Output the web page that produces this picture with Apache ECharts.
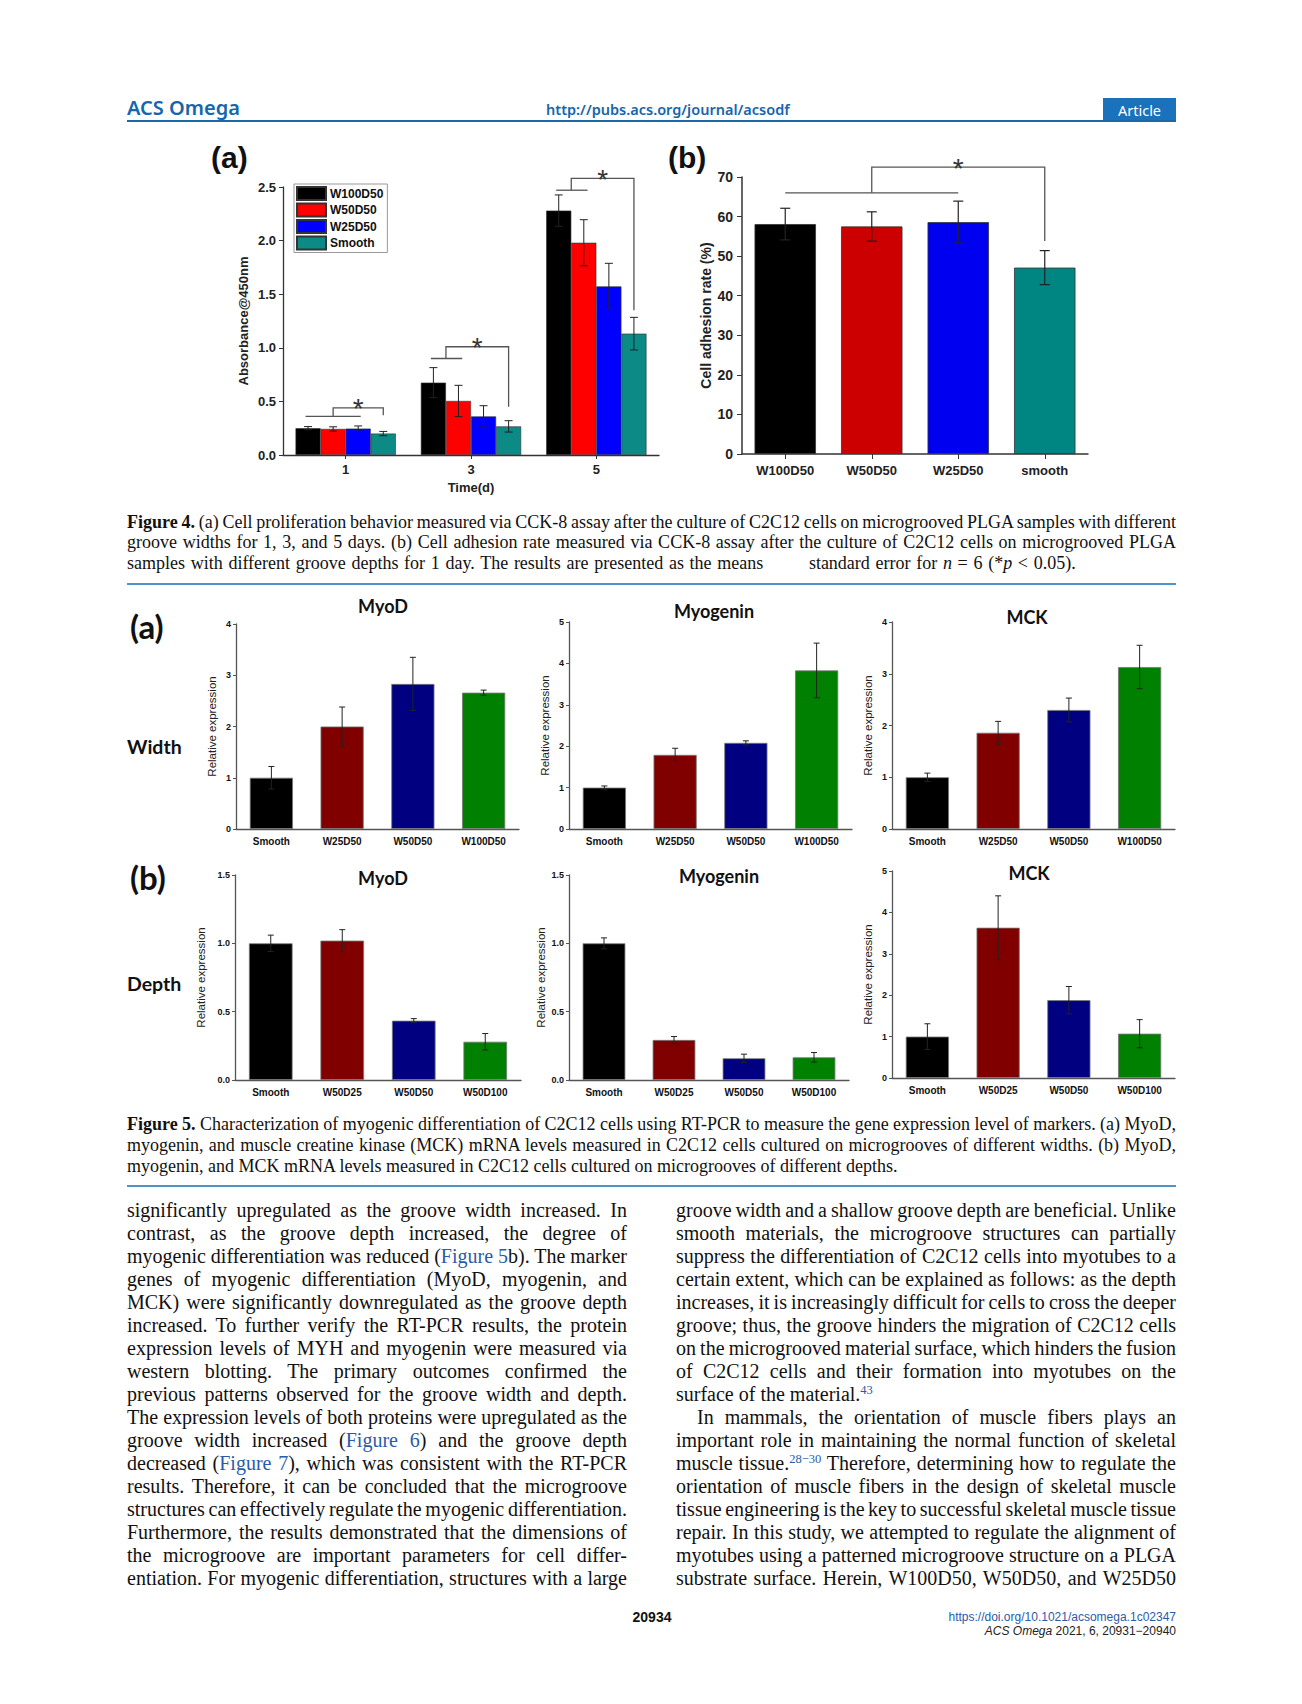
<!DOCTYPE html>
<html><head><meta charset="utf-8">
<script src="https://cdn.jsdelivr.net/npm/echarts@6/dist/echarts.min.js"></script>
<style>
html,body{margin:0;padding:0;background:#fff;}
body{width:1302px;height:1704px;position:relative;overflow:hidden;}
.t{position:absolute;white-space:nowrap;}
.serif{font-family:'Liberation Serif','Times New Roman',serif;color:#111;}
.cap{font-size:18px;line-height:20px;height:20px;left:127px;width:1049px;}
.body{font-size:20px;line-height:23px;height:23px;}
.lnk{color:#2b5aa8;}
.sup{font-size:12.5px;position:relative;top:-7px;color:#2b5aa8;}
.sans{font-family:'Liberation Sans',Arial,sans-serif;}
.lab5{font-family:Lato,'Open Sans',sans-serif;font-weight:bold;color:#111;}
#chart{position:absolute;left:0;top:0;width:1302px;height:1704px;z-index:5;}
</style></head>
<body>
<!-- header -->
<div class="t" style="left:127px;top:95px;font-family:'Noto Sans',sans-serif;font-size:20px;font-weight:600;line-height:26px;color:#1665ad;">ACS Omega</div>
<div class="t" style="left:546px;top:99px;font-family:'Noto Sans',sans-serif;font-size:14.5px;font-weight:600;line-height:20px;color:#1665ad;">http://pubs.acs.org/journal/acsodf</div>
<div class="t" style="left:1103px;top:98px;width:73px;height:24px;background:#1a72bd;color:#fff;font-family:'Noto Sans',sans-serif;font-size:14.5px;line-height:24px;text-align:center;">Article</div>
<div class="t" style="left:127px;top:120px;width:1049px;height:2px;background:#1a6aa8;"></div>

<!-- figure labels -->
<div class="t sans" style="left:211px;top:142px;font-size:30px;font-weight:bold;line-height:32px;color:#111;">(a)</div>
<div class="t sans" style="left:668px;top:142px;font-size:30px;font-weight:bold;line-height:32px;color:#111;">(b)</div>

<!-- Fig 4 caption -->
<div class="t serif cap j" style="top:512px;"><span><b>Figure 4.</b> (a) Cell proliferation behavior measured via CCK-8 assay after the culture of C2C12 cells on microgrooved PLGA samples with different</span></div>
<div class="t serif cap j" style="top:532px;"><span>groove widths for 1, 3, and 5 days. (b) Cell adhesion rate measured via CCK-8 assay after the culture of C2C12 cells on microgrooved PLGA</span></div>
<div class="t serif cap" style="top:553px;word-spacing:1.2px;"><span>samples with different groove depths for 1 day. The results are presented as the means &nbsp;&nbsp;&nbsp;&nbsp;&nbsp;&nbsp; standard error for <i>n</i> = 6 (*<i>p</i> &lt; 0.05).</span></div>
<div class="t" style="left:127px;top:583px;width:1049px;height:1.5px;background:#4f93c9;"></div>

<!-- Fig 5 labels -->
<div class="t lab5" style="left:130px;top:609px;font-size:33px;line-height:34px;">(a)</div>
<div class="t lab5" style="left:127px;top:735px;font-size:19.5px;line-height:24px;">Width</div>
<div class="t lab5" style="left:130px;top:860px;font-size:33px;line-height:34px;">(b)</div>
<div class="t lab5" style="left:127px;top:972px;font-size:19.5px;line-height:24px;">Depth</div>

<!-- Fig 5 caption -->
<div class="t serif cap j" style="top:1114px;"><span><b>Figure 5.</b> Characterization of myogenic differentiation of C2C12 cells using RT-PCR to measure the gene expression level of markers. (a) MyoD,</span></div>
<div class="t serif cap j" style="top:1135px;"><span>myogenin, and muscle creatine kinase (MCK) mRNA levels measured in C2C12 cells cultured on microgrooves of different widths. (b) MyoD,</span></div>
<div class="t serif cap" style="top:1156px;"><span>myogenin, and MCK mRNA levels measured in C2C12 cells cultured on microgrooves of different depths.</span></div>
<div class="t" style="left:127px;top:1185px;width:1049px;height:1.5px;background:#4f93c9;"></div>

<div id="bodytext"></div>

<!-- footer -->
<div class="t sans" style="left:612px;top:1608px;width:80px;text-align:center;font-size:14px;font-weight:bold;line-height:18px;color:#111;">20934</div>
<div class="t sans" style="right:126px;top:1610px;font-size:12px;line-height:14px;color:#2b5aa8;">https://doi.org/10.1021/acsomega.1c02347</div>
<div class="t sans" style="right:126px;top:1624px;font-size:12px;line-height:14px;color:#222;"><i>ACS Omega</i> 2021, 6, 20931−20940</div>

<div id="chart"></div>

<script>
// ---------------- body text ----------------
const leftLines = [
 "significantly upregulated as the groove width increased. In",
 "contrast, as the groove depth increased, the degree of",
 "myogenic differentiation was reduced (<span class='lnk'>Figure 5</span>b). The marker",
 "genes of myogenic differentiation (MyoD, myogenin, and",
 "MCK) were significantly downregulated as the groove depth",
 "increased. To further verify the RT-PCR results, the protein",
 "expression levels of MYH and myogenin were measured via",
 "western blotting. The primary outcomes confirmed the",
 "previous patterns observed for the groove width and depth.",
 "The expression levels of both proteins were upregulated as the",
 "groove width increased (<span class='lnk'>Figure 6</span>) and the groove depth",
 "decreased (<span class='lnk'>Figure 7</span>), which was consistent with the RT-PCR",
 "results. Therefore, it can be concluded that the microgroove",
 "structures can effectively regulate the myogenic differentiation.",
 "Furthermore, the results demonstrated that the dimensions of",
 "the microgroove are important parameters for cell differ-",
 "entiation. For myogenic differentiation, structures with a large"
];
const rightLines = [
 "groove width and a shallow groove depth are beneficial. Unlike",
 "smooth materials, the microgroove structures can partially",
 "suppress the differentiation of C2C12 cells into myotubes to a",
 "certain extent, which can be explained as follows: as the depth",
 "increases, it is increasingly difficult for cells to cross the deeper",
 "groove; thus, the groove hinders the migration of C2C12 cells",
 "on the microgrooved material surface, which hinders the fusion",
 "of C2C12 cells and their formation into myotubes on the",
 "surface of the material.<span class='sup'>43</span>",
 "In mammals, the orientation of muscle fibers plays an",
 "important role in maintaining the normal function of skeletal",
 "muscle tissue.<span class='sup'>28−30</span> Therefore, determining how to regulate the",
 "orientation of muscle fibers in the design of skeletal muscle",
 "tissue engineering is the key to successful skeletal muscle tissue",
 "repair. In this study, we attempted to regulate the alignment of",
 "myotubes using a patterned microgroove structure on a PLGA",
 "substrate surface. Herein, W100D50, W50D50, and W25D50"
];
(function(){
  const host = document.getElementById('bodytext');
  let html = '';
  leftLines.forEach((l,i)=>{
    html += `<div class="t serif body j" style="left:127px;width:500px;top:${1198.5+23*i}px;"><span>${l}</span></div>`;
  });
  rightLines.forEach((l,i)=>{
    const indent = (i===9);
    const just = (i!==8);
    html += `<div class="t serif body${just?' j':''}" style="left:${indent?697:676}px;width:${indent?479:500}px;top:${1198.5+23*i}px;"><span>${l}</span></div>`;
  });
  host.innerHTML = html;
  document.querySelectorAll('.j').forEach(el=>{
    const W = el.getBoundingClientRect().width;
    const s = el.firstElementChild;
    const w = s.getBoundingClientRect().width;
    const n = el.textContent.trim().split(/\s+/).length - 1;
    if (n>0) el.style.wordSpacing = ((W - w)/n) + 'px';
  });
})();

// ---------------- data ----------------
const fig4aDays = ['1', '3', '5'];
const fig4aNames = ['W100D50', 'W50D50', 'W25D50', 'Smooth'];
const fig4aW100D50 = [0.250, 0.675, 2.280];
const fig4aW50D50  = [0.243, 0.504, 1.980];
const fig4aW25D50  = [0.246, 0.360, 1.573];
const fig4aSmooth  = [0.200, 0.267, 1.132];
const fig4aErrW100D50 = [0.015, 0.140, 0.146];
const fig4aErrW50D50  = [0.020, 0.146, 0.215];
const fig4aErrW25D50  = [0.025, 0.100, 0.215];
const fig4aErrSmooth  = [0.020, 0.053, 0.152];
const fig4aSigLow  = [0.36, 0.90, 2.47];
const fig4aSigHigh = [0.44, 1.01, 2.58];
const fig4aSigDrop = [0.37, 0.45, 1.35];

const fig4bCats = ['W100D50', 'W50D50', 'W25D50', 'smooth'];
const fig4bValues = [58.1, 57.5, 58.6, 47.1];
const fig4bErr = [4.0, 3.7, 5.3, 4.3];
const fig4bSig = [66.0, 72.5, 53.8];

const widthCats = ['Smooth', 'W25D50', 'W50D50', 'W100D50'];
const depthCats = ['Smooth', 'W50D25', 'W50D50', 'W50D100'];
const widthMyoD = [1.00, 2.00, 2.83, 2.66];
const widthMyoDErr = [0.22, 0.38, 0.52, 0.05];
const widthMyogenin = [1.00, 1.79, 2.08, 3.83];
const widthMyogeninErr = [0.04, 0.16, 0.05, 0.66];
const widthMCK = [1.00, 1.86, 2.30, 3.13];
const widthMCKErr = [0.08, 0.22, 0.23, 0.42];
const depthMyoD = [1.00, 1.02, 0.434, 0.28];
const depthMyoDErr = [0.06, 0.08, 0.015, 0.06];
const depthMyogenin = [1.00, 0.293, 0.159, 0.166];
const depthMyogeninErr = [0.04, 0.025, 0.03, 0.035];
const depthMCK = [1.00, 3.63, 1.88, 1.07];
const depthMCKErr = [0.31, 0.77, 0.33, 0.34];

// ---------------- chart ----------------
const F4 = "'Liberation Sans', Arial, sans-serif";
const F5T = "Lato, 'Open Sans', sans-serif";
const C4a = ['#000000', '#ff0000', '#0000ff', '#0b8a86'];
const C4b = ['#000000', '#cc0000', '#0000f0', '#008682'];
const C5 = ['#000000', '#800000', '#000080', '#008000'];

function errItem(offset, cap, color, lw) {
  return function (params, api) {
    const c = api.value(0), m = api.value(1), e = api.value(2);
    const band = api.size([1, 0], [c, m])[0];
    const x = api.coord([c, m])[0] + offset * band;
    const yt = api.coord([c, m + e])[1];
    const yb = api.coord([c, m - e])[1];
    const st = { stroke: color, lineWidth: lw };
    return { type: 'group', children: [
      { type: 'line', shape: { x1: x, y1: yt, x2: x, y2: yb }, style: st },
      { type: 'line', shape: { x1: x - cap, y1: yt, x2: x + cap, y2: yt }, style: st },
      { type: 'line', shape: { x1: x - cap, y1: yb, x2: x + cap, y2: yb }, style: st }
    ]};
  };
}

const grids = [], xAxes = [], yAxes = [], series = [];

// Fig 4a
grids.push({ left: 283, top: 187, width: 376, height: 268 });
xAxes.push({ type: 'category', gridIndex: 0, data: fig4aDays, name: 'Time(d)', nameLocation: 'middle', nameGap: 26,
  nameTextStyle: { fontSize: 13, fontWeight: 'bold', color: '#222', fontFamily: F4 },
  axisLine: { lineStyle: { color: '#333', width: 1.3 } },
  axisTick: { show: true, alignWithLabel: true, length: 4, lineStyle: { color: '#333' } },
  axisLabel: { fontSize: 13, fontWeight: 'bold', color: '#222', margin: 8, fontFamily: F4 } });
yAxes.push({ type: 'value', gridIndex: 0, min: 0, max: 2.5, interval: 0.5, name: 'Absorbance@450nm', nameLocation: 'middle', nameRotate: 90, nameGap: 33,
  nameTextStyle: { fontSize: 13, fontWeight: 'bold', color: '#222', fontFamily: F4 },
  axisLine: { show: true, lineStyle: { color: '#333', width: 1.3 } },
  axisTick: { show: true, length: 4, lineStyle: { color: '#333' } },
  axisLabel: { fontSize: 13, fontWeight: 'bold', color: '#222', margin: 7, fontFamily: F4, formatter: v => v.toFixed(1) },
  splitLine: { show: false } });
const fig4aVals = [fig4aW100D50, fig4aW50D50, fig4aW25D50, fig4aSmooth];
const fig4aErrs = [fig4aErrW100D50, fig4aErrW50D50, fig4aErrW25D50, fig4aErrSmooth];
fig4aNames.forEach((nm, k) => {
  series.push({ type: 'bar', name: nm, xAxisIndex: 0, yAxisIndex: 0, data: fig4aVals[k], barGap: '0%', barCategoryGap: '20%',
    itemStyle: { color: C4a[k], borderColor: '#333', borderWidth: 0.6 } });
});
fig4aNames.forEach((nm, k) => {
  series.push({ type: 'custom', name: 'err' + nm, xAxisIndex: 0, yAxisIndex: 0, silent: true, z: 5,
    data: fig4aVals[k].map((v, i) => [i, v, fig4aErrs[k][i]]), encode: { x: 0, y: 1 },
    renderItem: errItem(-0.3 + 0.2 * k, 4, '#222', 1) });
});
const br4a = { a: [-0.32, -0.32, -0.32], b: [0.12, -0.07, -0.07], v: [-0.10, -0.20, -0.20], r: [0.30, 0.30, 0.30] };
series.push({ type: 'custom', name: 'sig4a', xAxisIndex: 0, yAxisIndex: 0, silent: true, z: 6, clip: false,
  data: fig4aDays.map((d, i) => [i, fig4aSigLow[i], fig4aSigHigh[i], fig4aSigDrop[i]]), encode: { x: 0, y: 1 },
  renderItem: function (params, api) {
    const i = params.dataIndex;
    const c = api.value(0), lo = api.value(1), hi = api.value(2), dr = api.value(3);
    const band = api.size([1, 0], [c, lo])[0];
    const cx = api.coord([c, lo])[0];
    const X = f => cx + f * band;
    const Y = v => api.coord([c, v])[1];
    const st = { stroke: '#555', lineWidth: 1.3, fill: null };
    return { type: 'group', children: [
      { type: 'line', shape: { x1: X(br4a.a[i]), y1: Y(lo), x2: X(br4a.b[i]), y2: Y(lo) }, style: st },
      { type: 'polyline', shape: { points: [[X(br4a.v[i]), Y(lo)], [X(br4a.v[i]), Y(hi)], [X(br4a.r[i]), Y(hi)], [X(br4a.r[i]), Y(dr)]] }, style: st },
      { type: 'text', x: (X(br4a.v[i]) + X(br4a.r[i])) / 2, y: Y(hi) + 1, style: { text: '*', fontSize: 28, fontFamily: F4, fill: '#333', align: 'center', verticalAlign: 'middle' } }
    ]};
  } });

// Fig 4b
grids.push({ left: 742, top: 177, width: 346, height: 277 });
xAxes.push({ type: 'category', gridIndex: 1, data: fig4bCats,
  axisLine: { lineStyle: { color: '#333', width: 1.5 } },
  axisTick: { show: true, alignWithLabel: true, length: 5, lineStyle: { color: '#333' } },
  axisLabel: { fontSize: 13, fontWeight: 'bold', color: '#222', margin: 10, fontFamily: F4, interval: 0 } });
yAxes.push({ type: 'value', gridIndex: 1, min: 0, max: 70, interval: 10, name: 'Cell adhesion rate (%)', nameLocation: 'middle', nameRotate: 90, nameGap: 29,
  nameTextStyle: { fontSize: 14, fontWeight: 'bold', color: '#222', fontFamily: F4 },
  axisLine: { show: true, lineStyle: { color: '#333', width: 1.5 } },
  axisTick: { show: true, length: 5, lineStyle: { color: '#333' } },
  axisLabel: { fontSize: 14, fontWeight: 'bold', color: '#222', margin: 9, fontFamily: F4 },
  splitLine: { show: false } });
series.push({ type: 'bar', name: 'adhesion', xAxisIndex: 1, yAxisIndex: 1, barCategoryGap: '29%',
  data: fig4bValues.map((v, i) => ({ value: v, itemStyle: { color: C4b[i] } })),
  itemStyle: { borderColor: '#333', borderWidth: 0.8 } });
series.push({ type: 'custom', name: 'err4b', xAxisIndex: 1, yAxisIndex: 1, silent: true, z: 5,
  data: fig4bValues.map((v, i) => [i, v, fig4bErr[i]]), encode: { x: 0, y: 1 },
  renderItem: errItem(0, 5, '#222', 1.2) });
series.push({ type: 'custom', name: 'sig4b', xAxisIndex: 1, yAxisIndex: 1, silent: true, z: 6, clip: false,
  data: [[0, fig4bSig[0], fig4bSig[1], fig4bSig[2]]], encode: { x: 0, y: 1 },
  renderItem: function (params, api) {
    const lo = api.value(1), hi = api.value(2), dr = api.value(3);
    const X = k => api.coord([k, lo])[0];
    const Y = v => api.coord([0, v])[1];
    const st = { stroke: '#555', lineWidth: 1.3, fill: null };
    return { type: 'group', children: [
      { type: 'line', shape: { x1: X(0), y1: Y(lo), x2: X(2), y2: Y(lo) }, style: st },
      { type: 'polyline', shape: { points: [[X(1), Y(lo)], [X(1), Y(hi)], [X(3), Y(hi)], [X(3), Y(dr)]] }, style: st },
      { type: 'text', x: (X(1) + X(3)) / 2, y: Y(hi) + 1, style: { text: '*', fontSize: 28, fontFamily: F4, fill: '#333', align: 'center', verticalAlign: 'middle' } }
    ]};
  } });

// Fig 5
function fig5(rect, cats, vals, errs, max, interval, dec, nameGap) {
  const gi = grids.length;
  grids.push({ left: rect[0], top: rect[1], width: rect[2], height: rect[3] });
  xAxes.push({ type: 'category', gridIndex: gi, data: cats,
    axisLine: { lineStyle: { color: '#555', width: 1.3 } }, axisTick: { show: false },
    axisLabel: { fontSize: 10, fontWeight: 'bold', color: '#111', margin: 7, fontFamily: F4, interval: 0 } });
  yAxes.push({ type: 'value', gridIndex: gi, min: 0, max: max, interval: interval, name: 'Relative expression', nameLocation: 'middle', nameRotate: 90, nameGap: nameGap,
    nameTextStyle: { fontSize: 11.5, color: '#222', fontFamily: F4 },
    axisLine: { show: true, lineStyle: { color: '#555', width: 1.3 } },
    axisTick: { show: true, length: 3, lineStyle: { color: '#555' } },
    axisLabel: { fontSize: 9, fontWeight: 'bold', color: '#111', margin: 5, fontFamily: F4, formatter: v => v.toFixed(dec) },
    splitLine: { show: false } });
  series.push({ type: 'bar', name: 'f5_' + gi, xAxisIndex: gi, yAxisIndex: gi, barWidth: '61%',
    data: vals.map((v, i) => ({ value: v, itemStyle: { color: C5[i] } })),
    itemStyle: { borderColor: '#777', borderWidth: 0.8 } });
  series.push({ type: 'custom', name: 'e5_' + gi, xAxisIndex: gi, yAxisIndex: gi, silent: true, z: 5,
    data: vals.map((v, i) => [i, v, errs[i]]), encode: { x: 0, y: 1 },
    renderItem: errItem(0, 3, '#222', 1) });
}
fig5([236, 624, 283, 205], widthCats, widthMyoD, widthMyoDErr, 4, 1, 0, 18);
fig5([569, 622, 283, 207], widthCats, widthMyogenin, widthMyogeninErr, 5, 1, 0, 18);
fig5([892, 622, 283, 207], widthCats, widthMCK, widthMCKErr, 4, 1, 0, 18);
fig5([235, 875, 286, 205], depthCats, depthMyoD, depthMyoDErr, 1.5, 0.5, 1, 28);
fig5([569, 875, 280, 205], depthCats, depthMyogenin, depthMyogeninErr, 1.5, 0.5, 1, 22);
fig5([892, 871, 283, 207], depthCats, depthMCK, depthMCKErr, 5, 1, 0, 18);

const titles5 = [['MyoD', 383, 606], ['Myogenin', 714, 611], ['MCK', 1027, 617], ['MyoD', 383, 878], ['Myogenin', 719, 876], ['MCK', 1029, 873]];

const chart = echarts.init(document.getElementById('chart'), null, { renderer: 'svg', width: 1302, height: 1704 });
chart.setOption({
  backgroundColor: 'transparent',
  animation: false,
  grid: grids.map(g => Object.assign({ outerBoundsMode: 'none', containLabel: false }, g)),
  xAxis: xAxes,
  yAxis: yAxes,
  legend: {
    data: fig4aNames, orient: 'vertical', left: 294, top: 184, icon: 'rect',
    itemWidth: 29, itemHeight: 13, itemGap: 1.5, padding: [2, 4, 2, 2],
    borderColor: '#999', borderWidth: 1, backgroundColor: '#fff',
    textStyle: { fontSize: 12, fontWeight: 'bold', color: '#111', fontFamily: F4, padding: [0, 0, 0, -1] }
  },
  graphic: titles5.map(t => ({ type: 'text', x: t[1], y: t[2], style: { text: t[0], fontSize: 18, fontWeight: 'bold', fontFamily: F5T, fill: '#111', align: 'center', verticalAlign: 'middle' } })),
  series: series
});
</script>
</body></html>
